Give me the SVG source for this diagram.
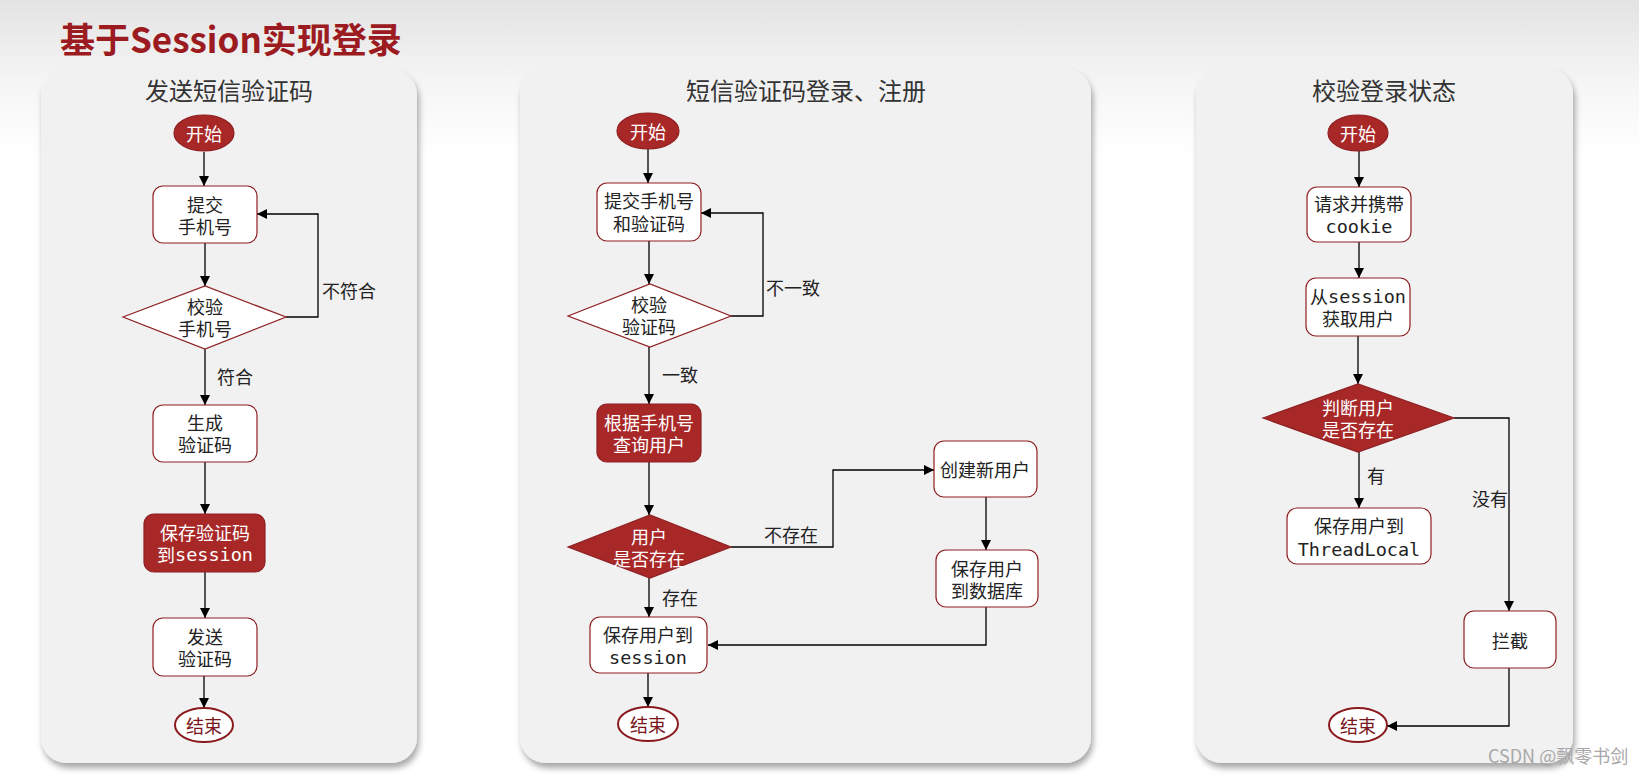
<svg xmlns="http://www.w3.org/2000/svg" width="1639" height="779" viewBox="0 0 1639 779">
<defs>
<linearGradient id="bg" x1="0" y1="0" x2="0" y2="1">
<stop offset="0" stop-color="#e3e3e3"/>
<stop offset="0.11" stop-color="#f6f6f6"/>
<stop offset="0.2" stop-color="#ffffff"/>
<stop offset="1" stop-color="#ffffff"/>
</linearGradient>
<filter id="sh" x="-10%" y="-10%" width="120%" height="120%">
<feDropShadow dx="2" dy="5" stdDeviation="3" flood-color="#000" flood-opacity="0.35"/>
</filter>
<marker id="ar" viewBox="0 0 10 10" refX="10" refY="5" markerWidth="10" markerHeight="10" markerUnits="userSpaceOnUse" orient="auto">
<path d="M0,0 L10,5 L0,10 z" fill="#000"/>
</marker>
<style>
.panel{fill:#f2f1f1;}
.ptitle{font-family:"Noto Sans CJK SC","Noto Sans",sans-serif;font-size:24px;fill:#333;text-anchor:middle;}
.box{fill:#fff;stroke:#8e1f22;stroke-width:1.2;}
.red{fill:#a82828;stroke:#8e1f22;stroke-width:1.2;}
.endn{fill:#fff;stroke:#8a1a1e;stroke-width:2;}
.t{font-family:"Noto Sans CJK SC","Noto Sans",sans-serif;font-size:18px;fill:#222;text-anchor:middle;dominant-baseline:central;}
.tw{fill:#fff;}
.te{fill:#7a161a;}
.m{font-family:"DejaVu Sans Mono","Liberation Mono",monospace;font-size:18.5px;}
.lbl{font-family:"Noto Sans CJK SC","Noto Sans",sans-serif;font-size:18px;fill:#222;dominant-baseline:central;}
.c{fill:none;stroke:#000;stroke-width:1.3;marker-end:url(#ar);}
</style>
</defs>
<rect x="0" y="0" width="1639" height="779" fill="url(#bg)"/>
<text x="60" y="53" font-family="Noto Sans CJK SC,Noto Sans,sans-serif" font-size="35" font-weight="bold" fill="#9b1b20">基于Session实现登录</text>

<g id="panel1">
<rect class="panel" x="41" y="69" width="376" height="694" rx="26" filter="url(#sh)"/>
<text class="ptitle" x="229" y="100">发送短信验证码</text>
</g>
<g id="panel2">
<rect class="panel" x="520" y="68" width="571" height="695" rx="26" filter="url(#sh)"/>
<text class="ptitle" x="806" y="100">短信验证码登录、注册</text>
</g>
<g id="panel3">
<rect class="panel" x="1196" y="68" width="377" height="695" rx="26" filter="url(#sh)"/>
<text class="ptitle" x="1384" y="100">校验登录状态</text>
</g>

<g id="connectors">
<path class="c" d="M204,152 L204,186"/>
<path class="c" d="M205,243 L205,286"/>
<path class="c" d="M286,317 L318,317 L318,214 L257,214"/>
<path class="c" d="M205,349 L205,405"/>
<path class="c" d="M205,462 L205,514"/>
<path class="c" d="M205,572 L205,618"/>
<path class="c" d="M204,676 L204,708"/>

<path class="c" d="M648,149 L648,183"/>
<path class="c" d="M649,241 L649,284"/>
<path class="c" d="M731,316 L763,316 L763,213 L701,213"/>
<path class="c" d="M649,347 L649,404"/>
<path class="c" d="M649,462 L649,515"/>
<path class="c" d="M731,547 L833,547 L833,470 L934,470"/>
<path class="c" d="M986,497 L986,550"/>
<path class="c" d="M986,607 L986,645 L708,645"/>
<path class="c" d="M649,578 L649,617"/>
<path class="c" d="M648,673 L648,707"/>

<path class="c" d="M1359,151 L1359,187"/>
<path class="c" d="M1359,242 L1359,278"/>
<path class="c" d="M1358,336 L1358,384"/>
<path class="c" d="M1359,452 L1359,508"/>
<path class="c" d="M1454,418 L1509,418 L1509,611"/>
<path class="c" d="M1509,668 L1509,726 L1387,726"/>

<text class="lbl" x="322" y="290">不符合</text>
<text class="lbl" x="217" y="376">符合</text>
<text class="lbl" x="766" y="287">不一致</text>
<text class="lbl" x="662" y="374">一致</text>
<text class="lbl" x="764" y="534">不存在</text>
<text class="lbl" x="662" y="597">存在</text>
<text class="lbl" x="1367" y="475">有</text>
<text class="lbl" x="1472" y="498">没有</text>
</g>

<g id="p1-start">
<ellipse class="red" cx="204" cy="133" rx="30" ry="18"/>
<text class="t tw" x="204" y="133">开始</text>
</g>
<g id="p1-submit">
<rect class="box" x="153" y="186" width="104" height="57" rx="10"/>
<text class="t" x="205" y="204">提交<tspan x="205" dy="22">手机号</tspan></text>
</g>
<g id="p1-check">
<polygon class="box" points="123,317 205,286 286,317 205,349"/>
<text class="t" x="205" y="306">校验<tspan x="205" dy="22">手机号</tspan></text>
</g>
<g id="p1-gen">
<rect class="box" x="153" y="405" width="104" height="57" rx="10"/>
<text class="t" x="205" y="422">生成<tspan x="205" dy="22">验证码</tspan></text>
</g>
<g id="p1-save">
<rect class="red" x="144" y="514" width="121" height="58" rx="10"/>
<text class="t tw" x="205" y="532">保存验证码<tspan x="205" dy="22">到</tspan><tspan class="m">session</tspan></text>
</g>
<g id="p1-send">
<rect class="box" x="153" y="618" width="104" height="58" rx="10"/>
<text class="t" x="205" y="636">发送<tspan x="205" dy="22">验证码</tspan></text>
</g>
<g id="p1-end">
<ellipse class="endn" cx="204" cy="725" rx="29" ry="17"/>
<text class="t te" x="204" y="725">结束</text>
</g>

<g id="p2-start">
<ellipse class="red" cx="648" cy="131" rx="31" ry="18"/>
<text class="t tw" x="648" y="131">开始</text>
</g>
<g id="p2-submit">
<rect class="box" x="597" y="183" width="104" height="58" rx="10"/>
<text class="t" x="649" y="200">提交手机号<tspan x="649" dy="23">和验证码</tspan></text>
</g>
<g id="p2-check">
<polygon class="box" points="568,316 650,284 731,316 650,347"/>
<text class="t" x="649" y="304">校验<tspan x="649" dy="22">验证码</tspan></text>
</g>
<g id="p2-query">
<rect class="red" x="597" y="404" width="104" height="58" rx="10"/>
<text class="t tw" x="649" y="422">根据手机号<tspan x="649" dy="22">查询用户</tspan></text>
</g>
<g id="p2-exists">
<polygon class="red" points="568,547 650,515 731,547 650,578"/>
<text class="t tw" x="649" y="536">用户<tspan x="649" dy="22">是否存在</tspan></text>
</g>
<g id="p2-create">
<rect class="box" x="934" y="441" width="103" height="56" rx="10"/>
<text class="t" x="985" y="469">创建新用户</text>
</g>
<g id="p2-savedb">
<rect class="box" x="936" y="550" width="102" height="57" rx="10"/>
<text class="t" x="987" y="568">保存用户<tspan x="987" dy="22">到数据库</tspan></text>
</g>
<g id="p2-savesession">
<rect class="box" x="590" y="617" width="117" height="56" rx="10"/>
<text class="t" x="648" y="634">保存用户到<tspan x="648" dy="23" class="m">session</tspan></text>
</g>
<g id="p2-end">
<ellipse class="endn" cx="648" cy="724" rx="30" ry="17"/>
<text class="t te" x="648" y="724">结束</text>
</g>

<g id="p3-start">
<ellipse class="red" cx="1358" cy="133" rx="30" ry="18"/>
<text class="t tw" x="1358" y="133">开始</text>
</g>
<g id="p3-request">
<rect class="box" x="1307" y="187" width="104" height="55" rx="10"/>
<text class="t" x="1359" y="203">请求并携带<tspan x="1359" dy="23" class="m">cookie</tspan></text>
</g>
<g id="p3-get">
<rect class="box" x="1306" y="278" width="104" height="58" rx="10"/>
<text class="t" x="1358" y="296">从<tspan class="m">session</tspan><tspan x="1358" dy="22">获取用户</tspan></text>
</g>
<g id="p3-judge">
<polygon class="red" points="1263,418 1358,384 1454,418 1358,452"/>
<text class="t tw" x="1358" y="407">判断用户<tspan x="1358" dy="22">是否存在</tspan></text>
</g>
<g id="p3-save">
<rect class="box" x="1287" y="508" width="144" height="56" rx="10"/>
<text class="t" x="1359" y="525">保存用户到<tspan x="1359" dy="24" class="m">ThreadLocal</tspan></text>
</g>
<g id="p3-block">
<rect class="box" x="1464" y="611" width="92" height="57" rx="10"/>
<text class="t" x="1510" y="640">拦截</text>
</g>
<g id="p3-end">
<ellipse class="endn" cx="1358" cy="725" rx="29" ry="17"/>
<text class="t te" x="1358" y="725">结束</text>
</g>

<text x="1488" y="763" font-family="Noto Sans CJK SC,Noto Sans,sans-serif" font-size="18" fill="#a8a8a8">CSDN @飘零书剑</text>
</svg>
